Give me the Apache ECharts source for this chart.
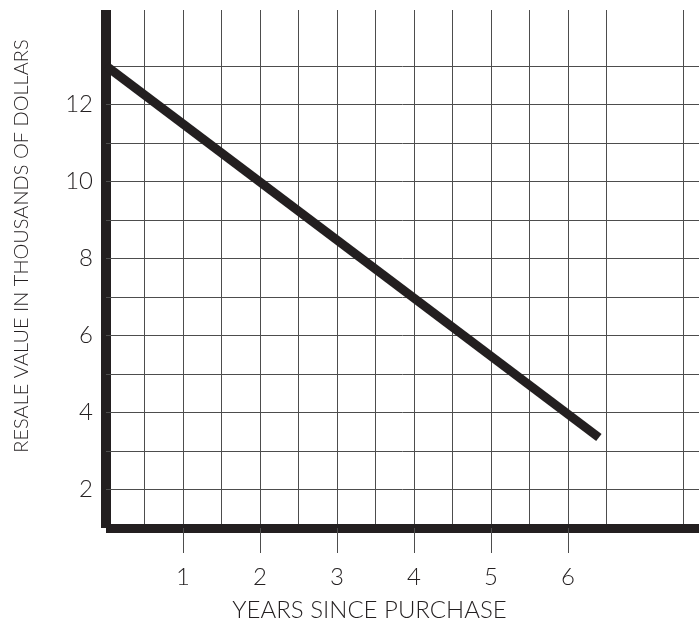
<!DOCTYPE html>
<html>
<head>
<meta charset="utf-8">
<script src="https://cdn.jsdelivr.net/npm/echarts@6/dist/echarts.min.js"></script>
<style>
  html, body { margin: 0; padding: 0; background: #fff; }
  #chart { width: 699px; height: 624px; }
</style>
</head>
<body>
<div id="chart"></div>
<script>
// resale value line (years, thousands of dollars)
const years = [0, 6.4];
const resale = [13, 3.35];

// axis labels / grid
const xTickValues = [1, 2, 3, 4, 5, 6];
const yTickValues = [2, 4, 6, 8, 10, 12];
const hGridValues = [2, 3, 4, 5, 6, 7, 8, 9, 10, 11, 12, 13];

const ink = '#231f20';
const gridGray = '#4d4d4d';
const font = 'Lato';

var chartDom = document.getElementById('chart');
var myChart = echarts.init(chartDom);

var lineData = [];
for (var i = 0; i < years.length; i++) {
    lineData.push([years[i], resale[i]]);
}

var option = {
    animation: false,
    backgroundColor: '#fff',
    grid: { left: 106, right: 0, top: 10, bottom: 96, outerBoundsMode: 'none', containLabel: false },
    xAxis: {
        type: 'value',
        min: 0,
        max: 7.7,
        interval: 1,
        name: 'YEARS SINCE PURCHASE',
        nameLocation: 'middle',
        nameGap: 70,
        nameTextStyle: { fontFamily: font, fontWeight: 300, fontSize: 24, color: ink, padding: [0, 66, 0, 0] },
        axisLine: { show: true, lineStyle: { color: ink, width: 9, cap: 'butt' } },
        axisTick: { show: true, length: 25, customValues: xTickValues, lineStyle: { color: gridGray, width: 1 } },
        axisLabel: { customValues: xTickValues, fontFamily: font, fontWeight: 300, fontSize: 24, color: ink, margin: 37 },
        splitLine: { show: true, lineStyle: { color: gridGray, width: 1 } },
        minorTick: { show: false, splitNumber: 2 },
        minorSplitLine: { show: true, lineStyle: { color: gridGray, width: 1 } }
    },
    yAxis: {
        type: 'value',
        min: 1,
        max: 14.45,
        interval: 1,
        name: 'RESALE VALUE IN THOUSANDS OF DOLLARS',
        nameLocation: 'middle',
        nameRotate: 90,
        nameGap: 74,
        nameTextStyle: { fontFamily: font, fontWeight: 300, fontSize: 20, color: ink, padding: [0, 0, 0, 46] },
        axisLine: { show: true, lineStyle: { color: ink, width: 10, cap: 'butt' } },
        axisTick: { show: false },
        axisLabel: { customValues: yTickValues, fontFamily: font, fontWeight: 300, fontSize: 24, color: ink, margin: 13 },
        splitLine: { show: false }
    },
    series: [
        {
            // horizontal grid lines, only up to 13
            type: 'line',
            data: [],
            z: 1,
            markLine: {
                silent: true,
                symbol: ['none', 'none'],
                label: { show: false },
                lineStyle: { color: gridGray, width: 1, type: 'solid' },
                data: hGridValues.map(function (v) { return { yAxis: v }; })
            }
        },
        {
            type: 'line',
            data: lineData,
            z: 5,
            showSymbol: false,
            symbol: 'none',
            lineStyle: { color: ink, width: 9, cap: 'butt' }
        }
    ]
};
option && myChart.setOption(option);
</script>
</body>
</html>
